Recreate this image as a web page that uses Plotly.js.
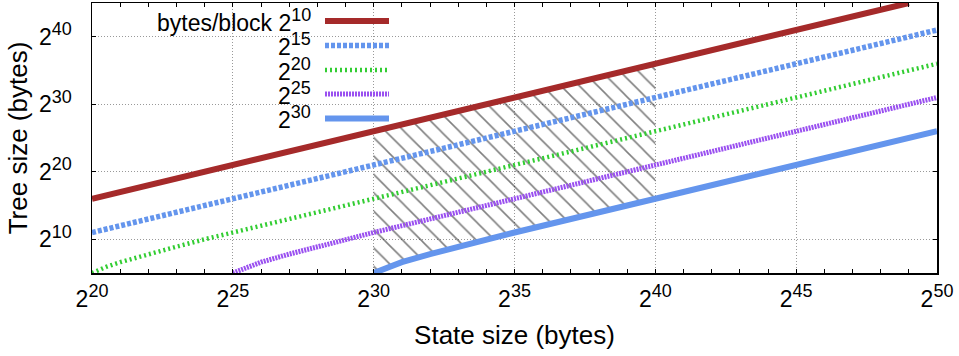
<!DOCTYPE html>
<html>
<head>
<meta charset="utf-8">
<script src="https://cdn.plot.ly/plotly-3.0.1.min.js"></script>
<style>html,body{margin:0;padding:0;background:#fff;}#chart{width:959px;height:356px;}</style>
</head>
<body>
<div id="chart"></div>
<script>
// log2 of state size (bytes) and log2 of tree size (bytes)
var blockExps = [10, 15, 20, 25, 30];

var b10x = [20, 25, 30, 35, 40, 45, 49];
var b10y = [16, 21, 26, 31, 36, 41, 45];

var b15x = [20, 25, 30, 35, 40, 45, 50];
var b15y = [11, 16, 21, 26, 31, 36, 41];

var b20x = [20, 20.5, 21, 22, 23, 24, 25, 30, 35, 40, 45, 50];
var b20y = [5, 5.9, 6.6, 7.8, 8.9, 10, 11, 16, 21, 26, 31, 36];

var b25x = [25, 25.5, 26, 27, 28, 29, 30, 35, 40, 45, 50];
var b25y = [5, 5.9, 6.6, 7.8, 8.9, 10, 11, 16, 21, 26, 31];

var b30x = [30, 30.5, 31, 32, 33, 34, 35, 40, 45, 50];
var b30y = [5, 5.9, 6.6, 7.8, 8.9, 10, 11, 16, 21, 26];

var xTickVals = [20, 25, 30, 35, 40, 45, 50];
var yTickVals = [10, 20, 30, 40];

// hatched region: state sizes 2^30 .. 2^40
var hatchLo = 30, hatchHi = 40;

function sup(v) { return '2<sup><span style="font-size:18px">' + v + '</span></sup>'; }

var hx = [], hy = [];
for (var i = 0; i < b10x.length; i++) if (b10x[i] >= hatchLo && b10x[i] <= hatchHi) { hx.push(b10x[i]); hy.push(b10y[i]); }
for (var j = b30x.length - 1; j >= 0; j--) if (b30x[j] >= hatchLo && b30x[j] <= hatchHi) { hx.push(b30x[j]); hy.push(b30y[j]); }
hx.push(hx[0]); hy.push(hy[0]);

var styles = [
  {color: '#a52a2a', width: 6, dash: 'solid'},
  {color: '#6495ed', width: 5.5, dash: '4px,2px'},
  {color: '#32cd32', width: 4.5, dash: '2px,3px'},
  {color: '#9a50f0', width: 5, dash: '2px,1px'},
  {color: '#6495ed', width: 6, dash: 'solid'}
];
var series = [[b10x, b10y], [b15x, b15y], [b20x, b20y], [b25x, b25y], [b30x, b30y]];

var traces = [{
  x: hx, y: hy, type: 'scatter', mode: 'lines', fill: 'toself',
  fillcolor: 'rgba(0,0,0,0)', line: {width: 0},
  fillpattern: {shape: '\\', fgcolor: '#000', bgcolor: 'rgba(0,0,0,0)', size: 13, solidity: 0.12, fillmode: 'overlay'},
  hoverinfo: 'skip', showlegend: false
}];
for (var k = series.length - 1; k >= 0; k--) {
  traces.push({x: series[k][0], y: series[k][1], type: 'scatter', mode: 'lines',
    line: {color: styles[k].color, width: styles[k].width, dash: styles[k].dash},
    name: '2^' + blockExps[k], showlegend: false, cliponaxis: true});
}

var L = 92, R = 937, T = 3, B = 273;
function px(x) { return (x - L) / (R - L); }
function py(y) { return (B - y) / (B - T); }

var shapes = [{type: 'rect', xref: 'paper', yref: 'paper', x0: px(105), x1: px(403), y0: py(130), y1: py(T), fillcolor: '#fff', line: {width: 0}, layer: 'between'}];
var annotations = [];
var rowY = [21, 45.5, 70, 94, 118.5];
for (var r = 0; r < 5; r++) {
  shapes.push({type: 'line', xref: 'paper', yref: 'paper', x0: px(325), x1: px(389), y0: py(rowY[r]), y1: py(rowY[r]),
    line: {color: styles[r].color, width: styles[r].width, dash: styles[r].dash}, layer: 'above'});
  annotations.push({xref: 'paper', yref: 'paper', x: px(313), y: py(rowY[r] - 1), xanchor: 'right', yanchor: 'middle',
    text: (r === 0 ? 'bytes/block ' : '') + sup(blockExps[r]), showarrow: false,
    font: {family: 'Liberation Sans, Arial, sans-serif', size: 23, color: '#000'}});
}

var layout = {
  width: 959, height: 356,
  margin: {l: L, r: 959 - R, t: T, b: 356 - B, pad: 0},
  paper_bgcolor: '#fff', plot_bgcolor: '#fff',
  font: {family: 'Liberation Sans, Arial, sans-serif', size: 23, color: '#000'},
  showlegend: false,
  xaxis: {
    range: [20, 50], tickvals: xTickVals, ticktext: xTickVals.map(sup),
    ticks: 'inside', ticklen: 4, tickcolor: '#000', tickwidth: 1,
    showline: true, linecolor: '#000', linewidth: 1.5, mirror: 'allticks',
    showgrid: true, gridcolor: '#999', griddash: '1px,2px', gridwidth: 1,
    zeroline: false, tickfont: {size: 23}, ticklabelstandoff: 5,
    minor: {dtick: 1, ticks: 'inside', ticklen: 4, tickcolor: '#000', showgrid: false},
    title: {text: 'State size (bytes)', font: {size: 26}, standoff: 14},
    automargin: false, fixedrange: true
  },
  yaxis: {
    range: [5, 45], tickvals: yTickVals, ticktext: yTickVals.map(sup),
    ticks: 'inside', ticklen: 4, tickcolor: '#000', tickwidth: 1,
    showline: true, linecolor: '#000', linewidth: 1.5, mirror: 'allticks',
    showgrid: true, gridcolor: '#999', griddash: '1px,2px', gridwidth: 1,
    zeroline: false, tickfont: {size: 23}, ticklabelstandoff: 14,
    title: {text: 'Tree size (bytes)', font: {size: 26}, standoff: 4},
    automargin: false, fixedrange: true
  },
  shapes: shapes,
  annotations: annotations
};

Plotly.newPlot('chart', traces, layout, {staticPlot: true, displayModeBar: false});
</script>
</body>
</html>
